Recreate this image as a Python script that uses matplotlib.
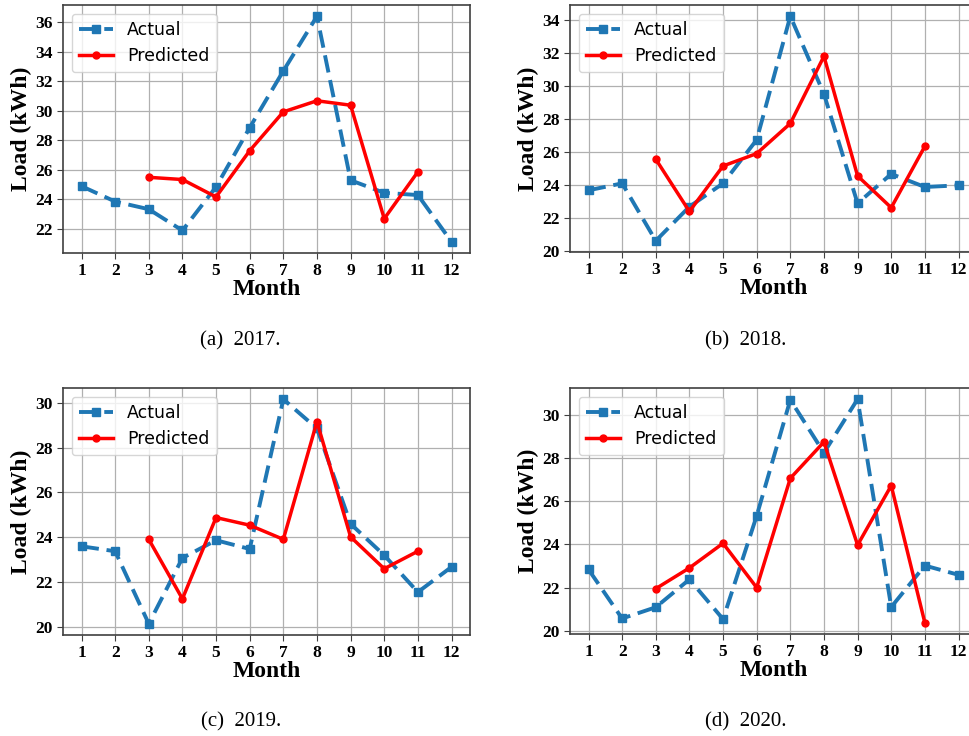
import numpy as np
import matplotlib
matplotlib.use('Agg')
import matplotlib.pyplot as plt
from matplotlib.ticker import MultipleLocator

months = list(range(1, 13))
pred_months = list(range(3, 12))

actual_2017 = [24.9, 23.86, 23.34, 21.9, 24.85, 28.86, 32.7, 36.4, 25.3, 24.45, 24.3, 21.14]
pred_2017 = [25.5, 25.35, 24.17, 27.3, 29.93, 30.68, 30.38, 22.7, 25.87]

actual_2018 = [23.68, 24.1, 20.63, 22.69, 24.1, 26.73, 34.2, 29.5, 22.89, 24.67, 23.88, 23.98]
pred_2018 = [25.56, 22.4, 25.15, 25.9, 27.72, 31.78, 24.55, 22.63, 26.34]

actual_2019 = [23.6, 23.38, 20.15, 23.08, 23.87, 23.48, 30.15, 28.85, 24.6, 23.2, 21.56, 22.68]
pred_2019 = [23.91, 21.26, 24.88, 24.54, 23.91, 29.15, 24.02, 22.6, 23.38]

actual_2020 = [22.84, 20.57, 21.09, 22.38, 20.54, 25.32, 30.69, 28.24, 30.72, 21.1, 23.02, 22.59]
pred_2020 = [21.95, 22.91, 24.05, 22.0, 27.06, 28.74, 23.97, 26.72, 20.37]

captions = ['(a)  2017.', '(b)  2018.', '(c)  2019.', '(d)  2020.']

W, H = 969, 736
# axes boxes in pixels: left, top, right, bottom
boxes = [(63, 5, 470, 253), (570, 5, 977, 252),
         (63, 388, 470, 635), (570, 388, 977, 634)]
caption_pos = [(240, 341), (746, 341), (241, 722), (746, 722)]

serif = 'Liberation Serif'

fig = plt.figure(figsize=(W / 100, H / 100), dpi=100)

data = [(actual_2017, pred_2017), (actual_2018, pred_2018),
        (actual_2019, pred_2019), (actual_2020, pred_2020)]

for (actual, pred), (l, t, r, b), cap, (cx, cy) in zip(data, boxes, captions, caption_pos):
    ax = fig.add_axes([l / W, 1 - b / H, (r - l) / W, (b - t) / H])
    ax.plot(months, actual, color='#1f77b4', linestyle='--', marker='s',
            linewidth=2.8, markersize=6, label='Actual', dashes=(4.5, 2))
    ax.plot(pred_months, pred, color='red', linestyle='-', marker='o',
            linewidth=2.5, markersize=5, label='Predicted')
    ax.set_xticks(months)
    ax.yaxis.set_major_locator(MultipleLocator(2))
    ax.grid(True, color='#b0b0b0', linewidth=0.9)
    ax.set_axisbelow(True)
    for s in ax.spines.values():
        s.set_color('#404040')
        s.set_linewidth(1.2)
    ax.tick_params(length=4, color='#404040')
    for lab in ax.get_xticklabels() + ax.get_yticklabels():
        lab.set_fontfamily(serif)
        lab.set_fontweight('bold')
        lab.set_fontsize(12.5)
    ax.set_xlabel('Month', fontfamily=serif, fontweight='bold', fontsize=17, labelpad=0)
    ax.set_ylabel('Load (kWh)', fontfamily=serif, fontweight='bold', fontsize=17, labelpad=2)
    ax.legend(loc='upper left', fontsize=12.5, fancybox=True, framealpha=0.8)
    fig.text(cx / W, 1 - cy / H, cap, fontfamily=serif, fontsize=15,
             ha='center', va='center')

fig.savefig('out.png', dpi=100)
